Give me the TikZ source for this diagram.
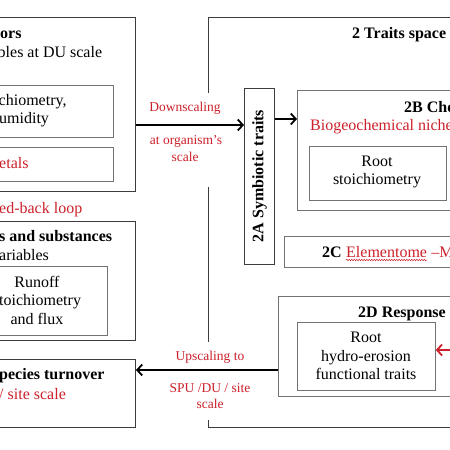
\documentclass[tikz,border=0pt]{standalone}
\usepackage{fontspec}
\setmainfont{Liberation Serif}
\usetikzlibrary{arrows.meta,decorations.pathmorphing,calc}
\definecolor{myred}{RGB}{204,32,42}
\definecolor{outgray}{RGB}{60,60,60}
\definecolor{ingray}{RGB}{115,115,115}
\tikzset{
  txt/.style={inner sep=0pt, font=\fontsize{16}{18.5}\selectfont},
  btxt/.style={inner sep=0pt, font=\fontsize{16}{18.5}\selectfont\bfseries},
  lab/.style={inner sep=0pt, text=myred, font=\fontsize{13.5}{17}\selectfont},
  obox/.style={draw=outgray, line width=1pt, inner sep=0pt, anchor=north west},
  ibox/.style={draw=ingray, line width=0.8pt, inner sep=0pt, anchor=north west},
  cover/.style={fill=white, inner sep=0pt},
  arr/.style={-{Straight Barb[length=5pt,width=11pt]}, line width=1.8pt},
}
\begin{document}
\begin{tikzpicture}[x=1pt,y=-1pt]
\useasboundingbox (0,0) rectangle (450,450);
\clip (0,0) rectangle (450,450);

% left column
\node[obox, minimum width=145pt, minimum height=174pt] (f1) at (-10,17) {};
\node[btxt, anchor=base west] (f1t) at (0,38) {ors};
\node[txt, anchor=base west] (f1s) at (-2.5,57) {bles at DU scale};
\node[ibox, minimum width=123pt, minimum height=52pt] (f1a) at (-10,85) {};
\node[txt, anchor=base west] (f1a1) at (-1.5,105) {chiometry,};
\node[txt, anchor=base west] (f1a2) at (-1,123) {umidity};
\node[ibox, minimum width=123pt, minimum height=34pt] (f1b) at (-10,147) {};
\node[txt, anchor=base west, text=myred] (f1b1) at (-1,168) {etals};

\node[txt, anchor=base west, text=myred] (loop) at (-1,213) {ed-back loop};

\node[obox, minimum width=145pt, minimum height=119pt] (f3) at (-10,221) {};
\node[btxt, anchor=base west] (f3t) at (-1,241) {s and substances};
\node[txt, anchor=base west] (f3s) at (-1,260) {ariables};
\node[ibox, minimum width=140pt, minimum height=69pt] (f3a) at (-33,266) {};
\node[txt, align=center] (f3at) at (37,300) {Runoff\\stoichiometry\\and flux};

\node[obox, minimum width=145pt, minimum height=68pt] (f4) at (-10,359) {};
\node[btxt, anchor=base west] (f4t) at (-1,379) {pecies turnover};
\node[txt, anchor=base west, text=myred] (f4s) at (-1,399) {/ site scale};

% traits space
\node[obox, minimum width=300pt, minimum height=410pt] (T) at (208,17) {};
\node[btxt, anchor=base west] (Tt) at (352,38) {2 Traits space};

\node[obox, minimum width=30pt, minimum height=176pt] (a2) at (244,88) {};
\node[btxt, rotate=90] (a2t) at (259.5,176) {2A Symbiotic traits};

\node[obox, draw=ingray, minimum width=200pt, minimum height=120pt] (b2) at (297,90) {};
\node[btxt, anchor=base west] (b2t) at (404,112) {2B Che};
\node[txt, anchor=base west, text=myred] (b2s) at (310,130) {Biogeochemical niche};
\node[ibox, minimum width=137pt, minimum height=54pt] (b2a) at (309,146) {};
\node[txt, align=center] (b2at) at (377,172) {Root\\stoichiometry};

\node[obox, draw=ingray, minimum width=200pt, minimum height=31pt] (c2) at (284,236) {};
\node[btxt, anchor=base west] (c2t) at (322,257) {2C};
\node[txt, anchor=base west, text=myred] (elem) at (346,257) {Elementome};
\node[txt, anchor=base west, text=myred] (c2m) at ($(elem.base east)+(4,0)$) {–M};
\draw[myred, line width=0.5pt, decorate, decoration={snake, amplitude=0.7pt, segment length=2.5pt}]
  ($(elem.base west)+(0,3)$) -- ($(elem.base east)+(0,3)$);

\node[obox, draw=ingray, minimum width=200pt, minimum height=100pt] (d2) at (278,296) {};
\node[btxt, anchor=base west] (d2t) at (358,317) {2D Response};
\node[ibox, minimum width=138pt, minimum height=68pt] (d2a) at (297,322) {};
\node[txt, align=center] (d2at) at (366,356) {Root\\hydro-erosion\\functional traits};

% label covers
\node[cover, minimum width=60pt, minimum height=94pt] (dscov) at (185,140) {};
\node[cover, minimum width=70pt, minimum height=78pt] (uscov) at (210,381) {};

\node[lab, anchor=base] (ds1) at (185,111) {Downscaling};
\node[lab, anchor=base] (ds2) at (186,144) {at organism’s};
\node[lab, anchor=base] (ds3) at (185,161) {scale};
\node[lab, anchor=base] (us1) at (210,360) {Upscaling to};
\node[lab, anchor=base] (us2) at (210,392) {SPU /DU / site};
\node[lab, anchor=base] (us3) at (210,408) {scale};

% arrows
\coordinate (dsy) at (0,125);
\coordinate (aby) at (0,119);
\coordinate (usy) at (0,370);
\coordinate (rin) at (480,350);
\draw[arr] (f1.east |- dsy) -- (a2.west |- dsy);
\draw[arr] (a2.east |- aby) -- (b2.west |- aby);
\draw[arr] (d2.west |- usy) -- (f4.east |- usy);
\draw[arr, myred] (rin) -- (d2a.east |- rin);
\end{tikzpicture}
\end{document}
